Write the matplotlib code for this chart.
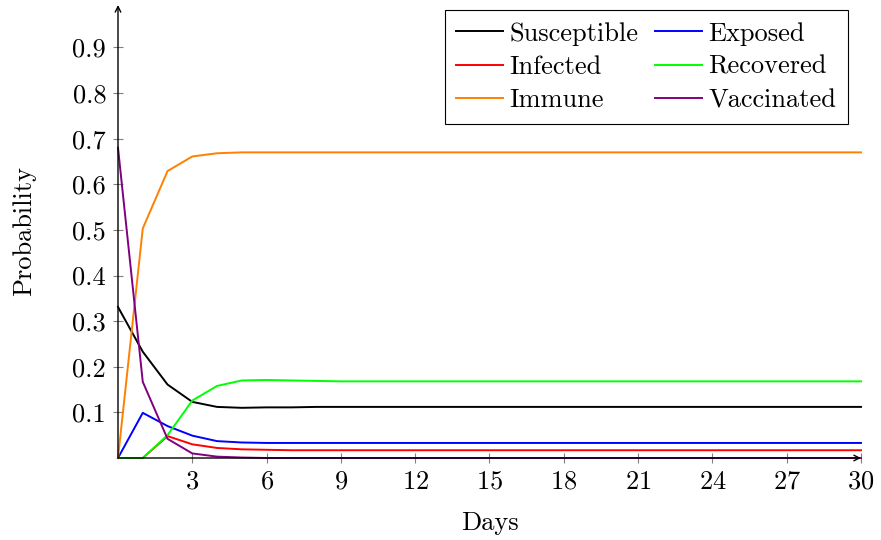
import numpy as np
import matplotlib
matplotlib.use("Agg")
import matplotlib.pyplot as plt

plt.rcParams['font.family'] = ['cmr10', 'DejaVu Serif']
plt.rcParams['axes.formatter.use_mathtext'] = True
plt.rcParams['mathtext.fontset'] = 'cm'

days = list(range(31))

# values, one per day
susceptible = [0.331, 0.233, 0.161, 0.123, 0.112, 0.110, 0.111, 0.111, 0.112, 0.112] + [0.112] * 21
exposed = [0.0, 0.099, 0.070, 0.049, 0.037, 0.034, 0.033, 0.033, 0.033, 0.033] + [0.033] * 21
infected = [0.0, 0.0, 0.048, 0.030, 0.022, 0.019, 0.018, 0.017, 0.017, 0.017] + [0.017] * 21
recovered = [0.0, 0.0, 0.050, 0.126, 0.158, 0.170, 0.171, 0.170, 0.169, 0.168] + [0.168] * 21
immune = [0.0, 0.503, 0.629, 0.661, 0.668, 0.670, 0.670, 0.670, 0.670, 0.670] + [0.670] * 21
vaccinated = [0.680, 0.167, 0.042, 0.010, 0.003, 0.001, 0.0, 0.0, 0.0, 0.0] + [0.0] * 21

series = [
    ("Susceptible", susceptible, "black"),
    ("Exposed", exposed, "blue"),
    ("Infected", infected, "red"),
    ("Recovered", recovered, "#00ff00"),
    ("Immune", immune, "#ff8000"),
    ("Vaccinated", vaccinated, "#800080"),
]

FS = 19

fig = plt.figure(figsize=(8.81, 5.40), dpi=100)
ax = fig.add_axes([118 / 881, 82 / 540, 743 / 881, 453 / 540])

for name, vals, col in series:
    ax.plot(days, vals, color=col, lw=1.4, label=name, clip_on=False, zorder=3)

ax.set_xlim(0, 30)
ax.set_ylim(0, 0.993)
ax.set_xticks(range(3, 31, 3))
yt = np.arange(0.1, 0.95, 0.1)
ax.set_yticks(yt)
ax.set_yticklabels([f"{v:.1f}" for v in yt])

for s in ax.spines.values():
    s.set_visible(False)

# axis lines with arrow heads, pgfplots style
ax.annotate("", xy=(1.0, 0), xytext=(0, 0), xycoords="axes fraction",
            arrowprops=dict(arrowstyle="->", color="black", lw=1.0, shrinkA=0, shrinkB=0))
ax.annotate("", xy=(0, 1.0), xytext=(0, 0), xycoords="axes fraction",
            arrowprops=dict(arrowstyle="->", color="black", lw=1.0, shrinkA=0, shrinkB=0))

ax.tick_params(direction="inout", length=7, width=0.8, color="#808080",
               labelsize=FS, labelcolor="black", pad=5)

ax.set_xlabel("Days", fontsize=FS, labelpad=13)
ax.set_ylabel("Probability", fontsize=FS, labelpad=26)

# row-wise order like the reference (matplotlib fills columns first)
handles, labels = ax.get_legend_handles_labels()
order = [0, 2, 4, 1, 3, 5]
leg = ax.legend([handles[i] for i in order], [labels[i] for i in order], ncol=2,
                loc="upper right", bbox_to_anchor=(0.9825, 0.989),
                fontsize=FS, frameon=True, fancybox=False, edgecolor="black",
                framealpha=1, handlelength=1.75, handletextpad=0.25, columnspacing=0.65,
                labelspacing=0.36, borderpad=0.45, borderaxespad=0)
leg.get_frame().set_linewidth(0.8)

fig.savefig("out.png", dpi=100)
